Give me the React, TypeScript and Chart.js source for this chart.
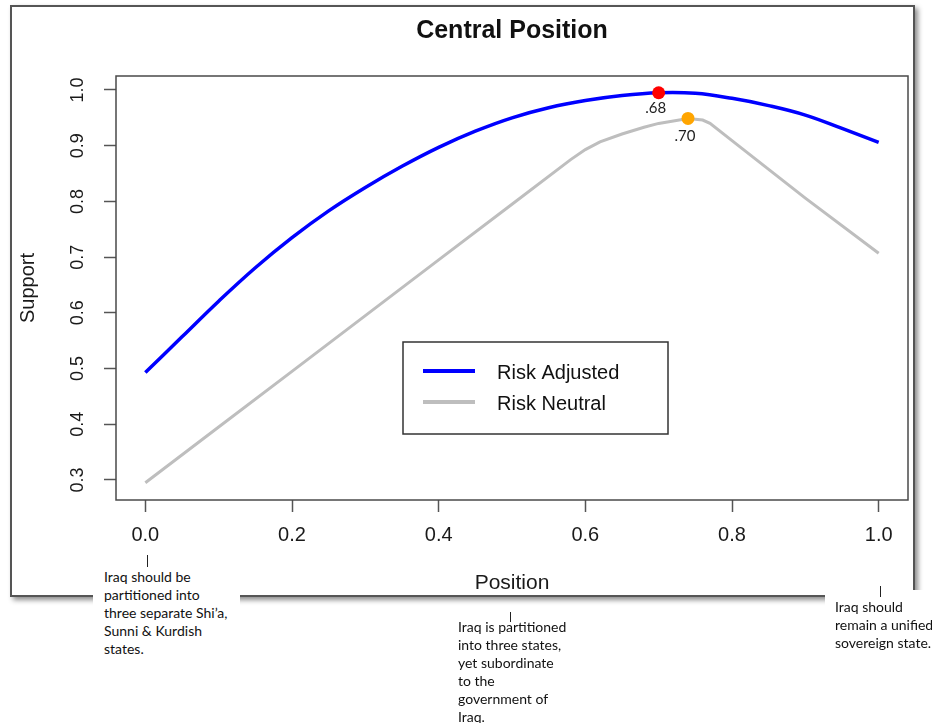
import React, { useEffect, useRef } from "react";
import { Chart, registerables } from "chart.js";

Chart.register(...registerables);

const chartTitle = "Central Position";
const xAxisTitle = "Position";
const yAxisTitle = "Support";

const adjustedPositions = [0, 0.05, 0.1, 0.15, 0.2, 0.25, 0.3, 0.35, 0.4, 0.45, 0.5, 0.55, 0.6, 0.65, 0.7, 0.75, 0.8, 0.85, 0.9, 0.95, 1.0];
const riskAdjusted = [0.493, 0.557, 0.621, 0.681, 0.735, 0.783, 0.825, 0.863, 0.897, 0.926, 0.95, 0.968, 0.981, 0.99, 0.995, 0.994, 0.985, 0.972, 0.955, 0.931, 0.906];

const neutralPositions = [0, 0.1, 0.2, 0.3, 0.4, 0.5, 0.58, 0.6, 0.62, 0.65, 0.68, 0.7, 0.74, 0.76, 0.77, 0.8, 0.9, 1.0];
const riskNeutral = [0.295, 0.395, 0.495, 0.595, 0.695, 0.795, 0.875, 0.893, 0.907, 0.921, 0.933, 0.94, 0.949, 0.946, 0.94, 0.909, 0.806, 0.707];

const markerPositions = [0.7, 0.74];
const markerValues = [0.995, 0.949];
const markerLabels = [".68", ".70"];
const markerColors = ["#ff0000", "#ffa500"];

const xTicks = [0, 0.2, 0.4, 0.6, 0.8, 1.0];
const xTickLabels = ["0.0", "0.2", "0.4", "0.6", "0.8", "1.0"];
const yTicks = [0.3, 0.4, 0.5, 0.6, 0.7, 0.8, 0.9, 1.0];
const yTickLabels = ["0.3", "0.4", "0.5", "0.6", "0.7", "0.8", "0.9", "1.0"];

const seriesNames = ["Risk Adjusted", "Risk Neutral"];
const seriesColors = ["#0000ff", "#bebebe"];

const annLeft = ["Iraq should be", "partitioned into", "three separate Shi\u2019a,", "Sunni & Kurdish", "states."];
const annMid = ["Iraq is partitioned", "into three states,", "yet subordinate", "to the", "government of", "Iraq."];
const annRight = ["Iraq should", "remain a unified", "sovereign state."];

const SANS = '"Liberation Sans", Arial, sans-serif';
const CAL = 'Lato, "Open Sans", sans-serif';

const decor = {
  id: "decor",
  afterDatasetsDraw(chart: any) {
    const { ctx, chartArea: a } = chart;
    ctx.save();
    ctx.strokeStyle = "#4a4a4a";
    ctx.lineWidth = 1.5;
    ctx.strokeRect(a.left, a.top, a.right - a.left, a.bottom - a.top);

    // title
    ctx.fillStyle = "#111";
    ctx.font = `bold 25px ${SANS}`;
    ctx.textAlign = "center";
    ctx.textBaseline = "middle";
    ctx.fillText(chartTitle, (a.left + a.right) / 2, 31);

    // marker labels
    ctx.font = `15px ${CAL}`;
    ctx.fillStyle = "#222";
    const offs = [15, 18];
    markerLabels.forEach((lab, i) => {
      const el = chart.getDatasetMeta(i).data[0];
      if (el) ctx.fillText(lab, el.x - 3, el.y + offs[i]);
    });

    // legend
    const lx = 403, ly = 342, lw = 265, lh = 92;
    ctx.fillStyle = "#fff";
    ctx.fillRect(lx, ly, lw, lh);
    ctx.strokeStyle = "#333";
    ctx.lineWidth = 1.5;
    ctx.strokeRect(lx, ly, lw, lh);
    ctx.font = `20px ${SANS}`;
    ctx.textAlign = "left";
    seriesNames.forEach((name, i) => {
      const y = ly + 29 + i * 31;
      ctx.strokeStyle = seriesColors[i];
      ctx.lineWidth = 4;
      ctx.lineCap = "butt";
      ctx.beginPath();
      ctx.moveTo(lx + 20, y);
      ctx.lineTo(lx + 72, y);
      ctx.stroke();
      ctx.fillStyle = "#111";
      ctx.fillText(name, lx + 94, y + 2);
    });
    ctx.restore();
  },
};

export default function App() {
  const ref = useRef<HTMLCanvasElement>(null);
  useEffect(() => {
    const canvas = ref.current;
    if (!canvas) return;
    const chart = new Chart(canvas, {
      type: "line",
      data: {
        datasets: [
          ...markerPositions.map((x, i) => ({
            label: "m" + i,
            data: [{ x, y: markerValues[i] }],
            showLine: false,
            pointRadius: 6.5,
            pointBackgroundColor: markerColors[i],
            pointBorderWidth: 0,
            borderColor: markerColors[i],
            order: 0,
          })),
          {
            label: seriesNames[0],
            data: adjustedPositions.map((x, i) => ({ x, y: riskAdjusted[i] })),
            borderColor: seriesColors[0],
            borderWidth: 3.5,
            pointRadius: 0,
            tension: 0.4,
            order: 1,
          },
          {
            label: seriesNames[1],
            data: neutralPositions.map((x, i) => ({ x, y: riskNeutral[i] })),
            borderColor: seriesColors[1],
            borderWidth: 3,
            pointRadius: 0,
            tension: 0,
            order: 2,
          },
        ],
      } as any,
      options: {
        animation: false,
        responsive: false,
        layout: { padding: { left: 10, top: 76, right: 24, bottom: 126 } },
        plugins: { legend: { display: false }, tooltip: { enabled: false }, title: { display: false } },
        scales: {
          x: {
            type: "linear",
            min: -0.04,
            max: 1.04,
            afterFit: (s: any) => {
              s.height = 97;
            },
            afterBuildTicks: (s: any) => {
              s.ticks = xTicks.map((v) => ({ value: v }));
            },
            ticks: {
              callback: (_v: any, i: number) => xTickLabels[i],
              font: { family: SANS, size: 20 },
              color: "#1a1a1a",
              padding: 11,
              maxRotation: 0,
              autoSkip: false,
            },
            grid: {
              drawOnChartArea: false,
              drawTicks: true,
              tickLength: 12,
              tickColor: "#555",
              tickWidth: 1.5,
            },
            border: { display: false },
            title: {
              display: true,
              text: xAxisTitle,
              font: { family: SANS, size: 21 },
              color: "#1a1a1a",
              padding: { top: 0, bottom: 1.4 },
            },
          },
          y: {
            type: "linear",
            min: 0.2641,
            max: 1.0251,
            afterFit: (s: any) => {
              s.width = 106;
            },
            afterBuildTicks: (s: any) => {
              s.ticks = yTicks.map((v) => ({ value: v }));
            },
            ticks: {
              callback: (_v: any, i: number) => yTickLabels[i],
              font: { family: SANS, size: 18 },
              color: "#1a1a1a",
              padding: 13,
              minRotation: 90,
              maxRotation: 90,
              crossAlign: "center",
              autoSkip: false,
            },
            grid: {
              drawOnChartArea: false,
              drawTicks: true,
              tickLength: 12,
              tickColor: "#555",
              tickWidth: 1.5,
            },
            border: { display: false },
            title: {
              display: true,
              text: yAxisTitle,
              font: { family: SANS, size: 20 },
              color: "#1a1a1a",
              padding: { top: 6, bottom: 0 },
            },
          },
        },
      } as any,
      plugins: [decor],
    });
    return () => chart.destroy();
  }, []);

  const textStyle: React.CSSProperties = {
    position: "absolute",
    fontFamily: CAL,
    fontSize: 14,
    lineHeight: "18px",
    color: "#111",
    whiteSpace: "nowrap",
  };

  return (
    <div style={{ position: "absolute", left: 0, top: 0, width: 932, height: 723, background: "#fff", overflow: "hidden" }}>
      <div
        style={{
          position: "absolute",
          left: 10,
          top: 5,
          width: 905,
          height: 592,
          boxSizing: "border-box",
          border: "2px solid #555",
          boxShadow: "3px 3px 5px rgba(0,0,0,0.45)",
        }}
      />
      <canvas ref={ref} width={932} height={723} style={{ position: "absolute", left: 0, top: 0, width: 932, height: 723 }} />
      {/* left annotation */}
      <div style={{ position: "absolute", left: 93, top: 553, width: 147, height: 112, background: "#fff" }} />
      <div style={{ position: "absolute", left: 147, top: 555, width: 1, height: 12, background: "#222" }} />
      <div style={{ ...textStyle, left: 104, top: 568 }}>
        {annLeft.map((t, i) => (
          <div key={i}>{t}</div>
        ))}
      </div>
      {/* middle annotation */}
      <div style={{ position: "absolute", left: 510, top: 612, width: 1, height: 10, background: "#222" }} />
      <div style={{ ...textStyle, left: 458, top: 618 }}>
        {annMid.map((t, i) => (
          <div key={i}>{t}</div>
        ))}
      </div>
      {/* right annotation */}
      <div style={{ position: "absolute", left: 825, top: 590, width: 107, height: 70, background: "#fff" }} />
      <div style={{ position: "absolute", left: 880, top: 586, width: 1, height: 11, background: "#222" }} />
      <div style={{ ...textStyle, left: 835, top: 598 }}>
        {annRight.map((t, i) => (
          <div key={i}>{t}</div>
        ))}
      </div>
    </div>
  );
}
